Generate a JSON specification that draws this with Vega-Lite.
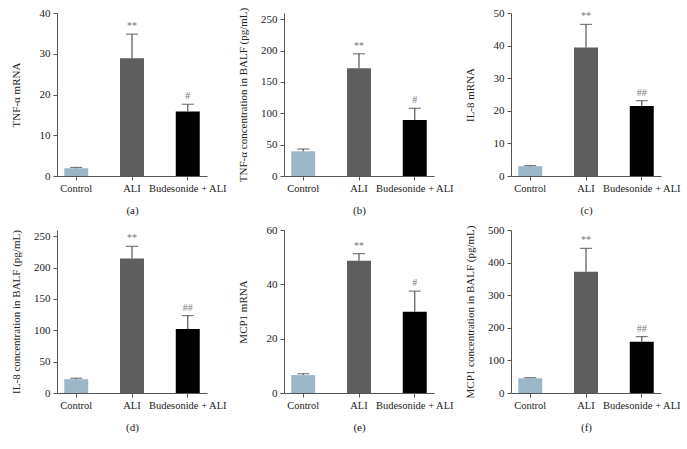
{
  "$schema": "https://vega.github.io/schema/vega-lite/v6.json",
  "padding": {"left": 9, "top": 7, "right": 2, "bottom": 5},
  "background": "white",
  "datasets": {
    "a": [
      {"group": "Control", "mean": 1.9, "upper": 2.1, "sig": ""},
      {"group": "ALI", "mean": 28.9, "upper": 34.8, "sig": "**"},
      {"group": "Budesonide + ALI", "mean": 15.8, "upper": 17.6, "sig": "#"}
    ],
    "b": [
      {"group": "Control", "mean": 39.4, "upper": 43, "sig": ""},
      {"group": "ALI", "mean": 172, "upper": 195, "sig": "**"},
      {"group": "Budesonide + ALI", "mean": 89.5, "upper": 108, "sig": "#"}
    ],
    "c": [
      {"group": "Control", "mean": 3.0, "upper": 3.2, "sig": ""},
      {"group": "ALI", "mean": 39.4, "upper": 46.5, "sig": "**"},
      {"group": "Budesonide + ALI", "mean": 21.5, "upper": 23.1, "sig": "##"}
    ],
    "d": [
      {"group": "Control", "mean": 22, "upper": 23.6, "sig": ""},
      {"group": "ALI", "mean": 214.6, "upper": 234, "sig": "**"},
      {"group": "Budesonide + ALI", "mean": 102, "upper": 123.5, "sig": "##"}
    ],
    "e": [
      {"group": "Control", "mean": 6.6, "upper": 7.1, "sig": ""},
      {"group": "ALI", "mean": 48.7, "upper": 51.3, "sig": "**"},
      {"group": "Budesonide + ALI", "mean": 29.9, "upper": 37.5, "sig": "#"}
    ],
    "f": [
      {"group": "Control", "mean": 45, "upper": 47, "sig": ""},
      {"group": "ALI", "mean": 372, "upper": 443.6, "sig": "**"},
      {"group": "Budesonide + ALI", "mean": 157, "upper": 173, "sig": "##"}
    ]
  },
  "columns": 3,
  "bounds": "flush",
  "spacing": {"row": 54, "column": 77},
  "concat": [
    {
      "data": {"name": "a"}, "width": 150, "height": 163,
      "encoding": {"x": {"field": "group", "type": "nominal", "sort": ["Control", "ALI", "Budesonide + ALI"], "scale": {"paddingInner": 0.57, "paddingOuter": 0.13}, "axis": {"title": "(a)"}}},
      "layer": [
        {"mark": {"type": "bar"}, "encoding": {"y": {"field": "mean", "type": "quantitative", "scale": {"domain": [0, 40]}, "axis": {"title": "TNF-α mRNA", "values": [0, 10, 20, 30, 40]}}, "color": {"field": "group", "type": "nominal", "scale": {"domain": ["Control", "ALI", "Budesonide + ALI"], "range": ["#9bb7c7", "#5e5e5e", "#000000"]}, "legend": null}}},
        {"mark": {"type": "rule", "color": "#555", "strokeWidth": 1.2}, "encoding": {"y": {"field": "mean", "type": "quantitative", "axis": {"title": "TNF-α mRNA", "values": [0, 10, 20, 30, 40]}}, "y2": {"field": "upper"}}},
        {"mark": {"type": "tick", "orient": "horizontal", "color": "#444", "size": 12, "thickness": 1.2}, "encoding": {"y": {"field": "upper", "type": "quantitative", "axis": {"title": "TNF-α mRNA", "values": [0, 10, 20, 30, 40]}}}},
        {"mark": {"type": "text", "baseline": "bottom", "dy": -3, "fontSize": 10, "color": "#777"}, "encoding": {"y": {"field": "upper", "type": "quantitative", "axis": {"title": "TNF-α mRNA", "values": [0, 10, 20, 30, 40]}}, "text": {"field": "sig"}}}
      ]
    },
    {
      "data": {"name": "b"}, "width": 150, "height": 163,
      "encoding": {"x": {"field": "group", "type": "nominal", "sort": ["Control", "ALI", "Budesonide + ALI"], "scale": {"paddingInner": 0.57, "paddingOuter": 0.13}, "axis": {"title": "(b)"}}},
      "layer": [
        {"mark": {"type": "bar"}, "encoding": {"y": {"field": "mean", "type": "quantitative", "scale": {"domain": [0, 250]}, "axis": {"title": "TNF-α concentration in BALF (pg/mL)", "values": [0, 50, 100, 150, 200, 250]}}, "color": {"field": "group", "type": "nominal", "scale": {"domain": ["Control", "ALI", "Budesonide + ALI"], "range": ["#9bb7c7", "#5e5e5e", "#000000"]}, "legend": null}}},
        {"mark": {"type": "rule", "color": "#555", "strokeWidth": 1.2}, "encoding": {"y": {"field": "mean", "type": "quantitative", "axis": {"title": "TNF-α concentration in BALF (pg/mL)", "values": [0, 50, 100, 150, 200, 250]}}, "y2": {"field": "upper"}}},
        {"mark": {"type": "tick", "orient": "horizontal", "color": "#444", "size": 12, "thickness": 1.2}, "encoding": {"y": {"field": "upper", "type": "quantitative", "axis": {"title": "TNF-α concentration in BALF (pg/mL)", "values": [0, 50, 100, 150, 200, 250]}}}},
        {"mark": {"type": "text", "baseline": "bottom", "dy": -3, "fontSize": 10, "color": "#777"}, "encoding": {"y": {"field": "upper", "type": "quantitative", "axis": {"title": "TNF-α concentration in BALF (pg/mL)", "values": [0, 50, 100, 150, 200, 250]}}, "text": {"field": "sig"}}}
      ]
    },
    {
      "data": {"name": "c"}, "width": 150, "height": 163,
      "encoding": {"x": {"field": "group", "type": "nominal", "sort": ["Control", "ALI", "Budesonide + ALI"], "scale": {"paddingInner": 0.57, "paddingOuter": 0.13}, "axis": {"title": "(c)"}}},
      "layer": [
        {"mark": {"type": "bar"}, "encoding": {"y": {"field": "mean", "type": "quantitative", "scale": {"domain": [0, 50]}, "axis": {"title": "IL-8 mRNA", "values": [0, 10, 20, 30, 40, 50]}}, "color": {"field": "group", "type": "nominal", "scale": {"domain": ["Control", "ALI", "Budesonide + ALI"], "range": ["#9bb7c7", "#5e5e5e", "#000000"]}, "legend": null}}},
        {"mark": {"type": "rule", "color": "#555", "strokeWidth": 1.2}, "encoding": {"y": {"field": "mean", "type": "quantitative", "axis": {"title": "IL-8 mRNA", "values": [0, 10, 20, 30, 40, 50]}}, "y2": {"field": "upper"}}},
        {"mark": {"type": "tick", "orient": "horizontal", "color": "#444", "size": 12, "thickness": 1.2}, "encoding": {"y": {"field": "upper", "type": "quantitative", "axis": {"title": "IL-8 mRNA", "values": [0, 10, 20, 30, 40, 50]}}}},
        {"mark": {"type": "text", "baseline": "bottom", "dy": -3, "fontSize": 10, "color": "#777"}, "encoding": {"y": {"field": "upper", "type": "quantitative", "axis": {"title": "IL-8 mRNA", "values": [0, 10, 20, 30, 40, 50]}}, "text": {"field": "sig"}}}
      ]
    },
    {
      "data": {"name": "d"}, "width": 150, "height": 163,
      "encoding": {"x": {"field": "group", "type": "nominal", "sort": ["Control", "ALI", "Budesonide + ALI"], "scale": {"paddingInner": 0.57, "paddingOuter": 0.13}, "axis": {"title": "(d)"}}},
      "layer": [
        {"mark": {"type": "bar"}, "encoding": {"y": {"field": "mean", "type": "quantitative", "scale": {"domain": [0, 250]}, "axis": {"title": "IL-8 concentration in BALF (pg/mL)", "values": [0, 50, 100, 150, 200, 250]}}, "color": {"field": "group", "type": "nominal", "scale": {"domain": ["Control", "ALI", "Budesonide + ALI"], "range": ["#9bb7c7", "#5e5e5e", "#000000"]}, "legend": null}}},
        {"mark": {"type": "rule", "color": "#555", "strokeWidth": 1.2}, "encoding": {"y": {"field": "mean", "type": "quantitative", "axis": {"title": "IL-8 concentration in BALF (pg/mL)", "values": [0, 50, 100, 150, 200, 250]}}, "y2": {"field": "upper"}}},
        {"mark": {"type": "tick", "orient": "horizontal", "color": "#444", "size": 12, "thickness": 1.2}, "encoding": {"y": {"field": "upper", "type": "quantitative", "axis": {"title": "IL-8 concentration in BALF (pg/mL)", "values": [0, 50, 100, 150, 200, 250]}}}},
        {"mark": {"type": "text", "baseline": "bottom", "dy": -3, "fontSize": 10, "color": "#777"}, "encoding": {"y": {"field": "upper", "type": "quantitative", "axis": {"title": "IL-8 concentration in BALF (pg/mL)", "values": [0, 50, 100, 150, 200, 250]}}, "text": {"field": "sig"}}}
      ]
    },
    {
      "data": {"name": "e"}, "width": 150, "height": 163,
      "encoding": {"x": {"field": "group", "type": "nominal", "sort": ["Control", "ALI", "Budesonide + ALI"], "scale": {"paddingInner": 0.57, "paddingOuter": 0.13}, "axis": {"title": "(e)"}}},
      "layer": [
        {"mark": {"type": "bar"}, "encoding": {"y": {"field": "mean", "type": "quantitative", "scale": {"domain": [0, 60]}, "axis": {"title": "MCP1 mRNA", "values": [0, 20, 40, 60]}}, "color": {"field": "group", "type": "nominal", "scale": {"domain": ["Control", "ALI", "Budesonide + ALI"], "range": ["#9bb7c7", "#5e5e5e", "#000000"]}, "legend": null}}},
        {"mark": {"type": "rule", "color": "#555", "strokeWidth": 1.2}, "encoding": {"y": {"field": "mean", "type": "quantitative", "axis": {"title": "MCP1 mRNA", "values": [0, 20, 40, 60]}}, "y2": {"field": "upper"}}},
        {"mark": {"type": "tick", "orient": "horizontal", "color": "#444", "size": 12, "thickness": 1.2}, "encoding": {"y": {"field": "upper", "type": "quantitative", "axis": {"title": "MCP1 mRNA", "values": [0, 20, 40, 60]}}}},
        {"mark": {"type": "text", "baseline": "bottom", "dy": -3, "fontSize": 10, "color": "#777"}, "encoding": {"y": {"field": "upper", "type": "quantitative", "axis": {"title": "MCP1 mRNA", "values": [0, 20, 40, 60]}}, "text": {"field": "sig"}}}
      ]
    },
    {
      "data": {"name": "f"}, "width": 150, "height": 163,
      "encoding": {"x": {"field": "group", "type": "nominal", "sort": ["Control", "ALI", "Budesonide + ALI"], "scale": {"paddingInner": 0.57, "paddingOuter": 0.13}, "axis": {"title": "(f)"}}},
      "layer": [
        {"mark": {"type": "bar"}, "encoding": {"y": {"field": "mean", "type": "quantitative", "scale": {"domain": [0, 500]}, "axis": {"title": "MCP1 concentration in BALF (pg/mL)", "values": [0, 100, 200, 300, 400, 500]}}, "color": {"field": "group", "type": "nominal", "scale": {"domain": ["Control", "ALI", "Budesonide + ALI"], "range": ["#9bb7c7", "#5e5e5e", "#000000"]}, "legend": null}}},
        {"mark": {"type": "rule", "color": "#555", "strokeWidth": 1.2}, "encoding": {"y": {"field": "mean", "type": "quantitative", "axis": {"title": "MCP1 concentration in BALF (pg/mL)", "values": [0, 100, 200, 300, 400, 500]}}, "y2": {"field": "upper"}}},
        {"mark": {"type": "tick", "orient": "horizontal", "color": "#444", "size": 12, "thickness": 1.2}, "encoding": {"y": {"field": "upper", "type": "quantitative", "axis": {"title": "MCP1 concentration in BALF (pg/mL)", "values": [0, 100, 200, 300, 400, 500]}}}},
        {"mark": {"type": "text", "baseline": "bottom", "dy": -3, "fontSize": 10, "color": "#777"}, "encoding": {"y": {"field": "upper", "type": "quantitative", "axis": {"title": "MCP1 concentration in BALF (pg/mL)", "values": [0, 100, 200, 300, 400, 500]}}, "text": {"field": "sig"}}}
      ]
    }
  ],
  "config": {
    "view": {"stroke": null},
    "font": "Liberation Serif",
    "text": {"font": "Liberation Serif"},
    "axis": {
      "grid": false,
      "labelFont": "Liberation Serif",
      "titleFont": "Liberation Serif",
      "labelFontSize": 11,
      "titleFontSize": 11,
      "titleFontWeight": "normal",
      "domainColor": "#555",
      "tickColor": "#555",
      "labelColor": "#222",
      "titleColor": "#222",
      "tickSize": 4,
      "labelPadding": 2
    },
    "axisX": {"labelAngle": 0, "titlePadding": 11, "labelFontSize": 10.5, "labelPadding": 3},
    "axisY": {"titleX": -36, "labelPadding": 3}
  }
}
